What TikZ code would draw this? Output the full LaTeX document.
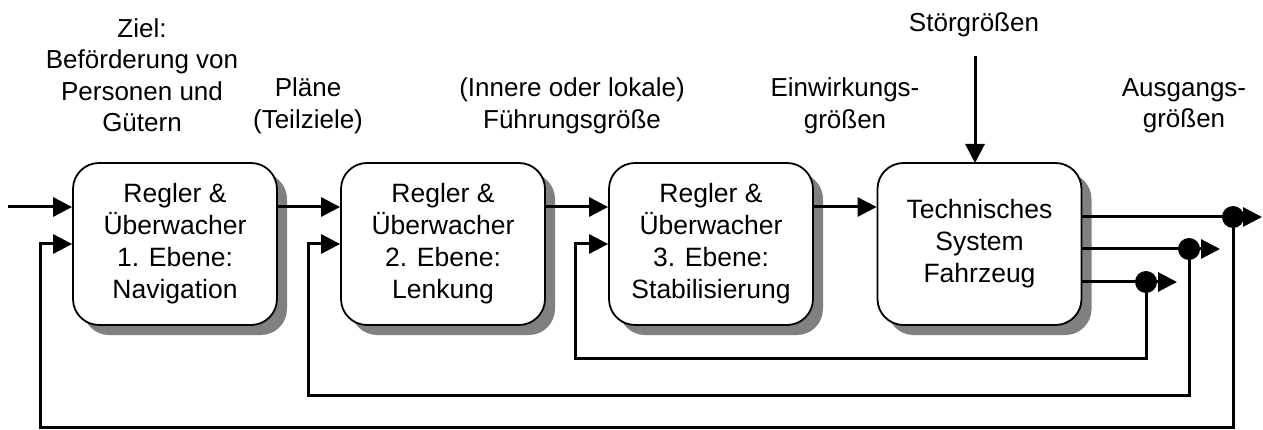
\documentclass[tikz,border=0pt]{standalone}
\usepackage{fontspec}
\setmainfont{Liberation Sans}
\usetikzlibrary{arrows.meta,shadows}

\begin{document}
\begin{tikzpicture}[x=1pt,y=-1pt,
  blk/.style={draw=black, line width=1.8pt, fill=white, rounded corners=26pt,
    minimum width=204pt, minimum height=162pt, align=center, inner sep=0pt,
    font=\fontsize{26.5}{32}\selectfont,
    general shadow={fill=black!50, shadow xshift=10pt, shadow yshift=-10pt}},
  sig/.style={line width=3pt, -{Triangle[length=19pt,width=19pt]}},
  wire/.style={line width=3pt},
  lbl/.style={align=center, inner sep=0pt, font=\fontsize{26}{31.5}\selectfont},
  dot/.style={circle, fill=black, minimum size=22pt, inner sep=0pt}]

\useasboundingbox (0,0) rectangle (1263,430);

% controller levels and the vehicle
\node[blk] (b1) at (175,244) {Regler \&\\Überwacher\\1. Ebene:\\Navigation};
\node[blk] (b2) at (443,244) {Regler \&\\Überwacher\\2. Ebene:\\Lenkung};
\node[blk] (b3) at (711,244) {Regler \&\\Überwacher\\3. Ebene:\\Stabilisierung};
\node[blk] (b4) at (979.5,244) {Technisches\\System\\Fahrzeug};

% signal labels
\node[lbl] (ziel) at (142,75) {Ziel:\\Beförderung von\\Personen und\\Gütern};
\node[lbl] (plaene) at (308,106) {Pläne\\(Teilziele)};
\node[lbl] (fuehr) at (572,106) {(Innere oder lokale)\\Führungsgröße};
\node[lbl] (einw) at (845,106) {Einwirkungs-\\größen};
\node[lbl] (stoer) at (974,25) {Störgrößen};
\node[lbl] (ausg) at (1184,106) {Ausgangs-\\größen};

% auxiliary points
\coordinate (in0) at (8,207);
\coordinate (st0) at (975,56);
\coordinate (st1) at (975,163);
\coordinate (d1) at (1233,217);
\coordinate (d2) at (1189,249);
\coordinate (d3) at (1146,282);
\coordinate (o1) at (1262,217);
\coordinate (o2) at (1220,249);
\coordinate (o3) at (1177,282);
\coordinate (r1) at (40,427);
\coordinate (r2) at (308,395);
\coordinate (r3) at (575,358);

% forward path
\draw[sig] (in0) -- ([yshift=37pt]b1.west);
\draw[sig] ([yshift=37pt]b1.east) -- ([yshift=37pt]b2.west);
\draw[sig] ([yshift=37pt]b2.east) -- ([yshift=37pt]b3.west);
\draw[sig] ([yshift=37pt]b3.east) -- ([yshift=37pt]b4.west);
\draw[sig] (st0) -- (st1);

% outputs
\draw[wire] ([yshift=27pt]b4.east) -- (d1);
\draw[wire] ([yshift=-5pt]b4.east) -- (d2);
\draw[wire] ([yshift=-38pt]b4.east) -- (d3);
\draw[sig] (d1) -- (o1);
\draw[sig] (d2) -- (o2);
\draw[sig] (d3) -- (o3);

% feedback loops
\draw[sig] (d1) |- (r1) |- (b1.west);
\draw[sig] (d2) |- (r2) |- (b2.west);
\draw[sig] (d3) |- (r3) |- (b3.west);

% branch points
\node[dot] at (d1) {};
\node[dot] at (d2) {};
\node[dot] at (d3) {};
\end{tikzpicture}
\end{document}
